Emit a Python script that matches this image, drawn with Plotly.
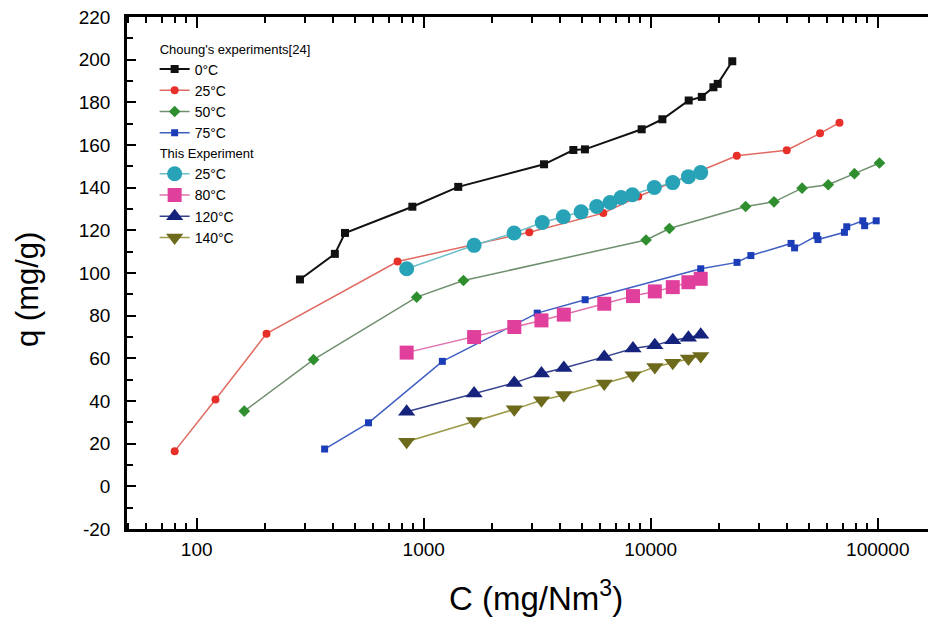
import plotly.graph_objects as go

# ---------------- data ----------------
# Choung's experiments [24]
c_0 = [285, 406, 450, 891, 1419, 3388, 4560, 5130, 9120, 11250, 14690, 16780, 18880, 19720, 22860]
q_0 = [97.0, 109.0, 118.8, 131.1, 140.4, 151.0, 157.7, 158.0, 167.4, 172.1, 180.9, 182.6, 187.1, 188.7, 199.3]

c_25c = [80, 121, 203, 767, 2918, 6180, 8810, 23930, 39720, 55700, 67800]
q_25c = [16.5, 40.7, 71.6, 105.4, 119.1, 128.1, 135.9, 155.0, 157.6, 165.5, 170.5]

c_50 = [162, 327, 931, 1496, 9530, 12080, 26170, 34900, 46400, 60500, 78900, 101700]
q_50 = [35.3, 59.4, 88.7, 96.5, 115.5, 120.9, 131.2, 133.4, 139.8, 141.4, 146.6, 151.6]

c_75 = [366, 571, 1208, 3162, 5140, 16600, 23990, 27600, 41500, 43000, 53800, 54500, 71300, 73000, 85900, 87500, 98400]
q_75 = [17.5, 29.8, 58.6, 81.2, 87.5, 102.0, 105.0, 108.2, 113.9, 111.8, 117.5, 115.7, 119.1, 121.7, 124.5, 122.2, 124.5]

# This experiment
c_25e = [841, 1667, 2500, 3327, 4120, 4933, 5780, 6620, 7400, 8300, 10370, 12500, 14650, 16600]
q_25e = [102.0, 113.0, 118.8, 123.7, 126.4, 128.7, 131.2, 133.1, 135.4, 136.7, 140.1, 142.4, 145.2, 147.1]

c_exp = [841, 1667, 2506, 3300, 4140, 6240, 8350, 10420, 12500, 14650, 16600]
q_80 = [62.7, 70.0, 74.7, 77.8, 80.5, 85.6, 89.2, 91.4, 93.4, 95.7, 97.3]
q_120 = [35.0, 43.5, 48.5, 52.9, 55.5, 60.7, 64.6, 66.1, 68.5, 69.7, 71.1]
q_140 = [20.9, 30.6, 36.1, 40.4, 42.8, 48.2, 52.1, 56.0, 57.9, 59.9, 61.1]

x_ticks = [100, 1000, 10000, 100000]
y_ticks = list(range(-20, 221, 20))

x_title = "C (mg/Nm<sup>3</sup>)"
y_title = "q (mg/g)"

# ---------------- figure ----------------
fig = go.Figure()

def add(x, y, name, group, mcolor, lcolor, symbol, size, gtitle=None, lw=1.5):
    kw = {}
    if gtitle is not None:
        kw["legendgrouptitle"] = dict(text=gtitle, font=dict(size=13, color="black"))
    fig.add_trace(go.Scatter(
        x=x, y=y, name=name, legendgroup=group, mode="lines+markers",
        line=dict(color=lcolor, width=lw),
        marker=dict(color=mcolor, symbol=symbol, size=size, line=dict(width=0)),
        **kw))

add(c_0, q_0, "0°C", "a", "#111111", "#111111", "square", 8, "Choung's experiments[24]", lw=2)
add(c_25c, q_25c, "25°C", "a", "#e8302a", "#e06a62", "circle", 8)
add(c_50, q_50, "50°C", "a", "#2f8f2f", "#6f8f6f", "diamond", 9)
add(c_75, q_75, "75°C", "a", "#1c3db8", "#3f5fc2", "square", 7)
add(c_25e, q_25e, "25°C", "b", "#28a2b6", "#6cbfca", "circle", 15, "This Experiment")
add(c_exp, q_80, "80°C", "b", "#e0409c", "#e070ad", "square", 14)
add(c_exp, q_120, "120°C", "b", "#16237c", "#34408c", "triangle-up", 15)
add(c_exp, q_140, "140°C", "b", "#6d6a1c", "#9c9a48", "triangle-down", 15)

minor_x = []
for d in [10, 100, 1000, 10000, 100000]:
    for k in range(2, 10):
        minor_x.append(k * d)

font_family = "Liberation Sans, Arial, sans-serif"

PLOT_TOP, PLOT_H = 17, 512

fig.update_layout(
    width=936, height=625,
    margin=dict(l=119, r=4, t=9, b=104, autoexpand=False),
    paper_bgcolor="white", plot_bgcolor="white",
    font=dict(family=font_family, color="black"),
    showlegend=True,
    legend=dict(
        x=0.034, y=1 - (33.6 - PLOT_TOP) / PLOT_H, xanchor="left", yanchor="top",
        bgcolor="rgba(0,0,0,0)", borderwidth=0,
        font=dict(size=14, color="black"),
        tracegroupgap=0, traceorder="grouped", itemwidth=30,
    ),
    xaxis=dict(
        type="log", range=[1.693, 5.274],
        tickvals=x_ticks, ticktext=[str(v) for v in x_ticks],
        ticks="inside", ticklen=11, tickwidth=1.5, tickcolor="black",
        minor=dict(tickvals=minor_x, ticks="inside", ticklen=6, tickwidth=1.5, tickcolor="black"),
        showline=True, linewidth=2.5, linecolor="black", mirror="ticks",
        showgrid=False, zeroline=False, automargin=False,
        tickfont=dict(size=19, family=font_family),
        ticklabelstandoff=1,
    ),
    yaxis=dict(
        range=[-20, 220.05], tickvals=y_ticks, ticktext=[str(v) for v in y_ticks],
        ticks="inside", ticklen=9, tickwidth=1.5, tickcolor="black",
        minor=dict(dtick=10, ticks="inside", ticklen=6, tickwidth=1.5, tickcolor="black"),
        showline=True, linewidth=2.5, linecolor="black", mirror="ticks",
        showgrid=False, zeroline=False, automargin=False,
        tickfont=dict(size=19, family=font_family),
        ticklabelstandoff=10, ticklabeloverflow="allow",
    ),
    annotations=[
        dict(text=x_title, xref="paper", yref="paper", x=(536 - 127) / 813,
             y=(529 - 596) / PLOT_H,
             xanchor="center", yanchor="middle", showarrow=False,
             font=dict(size=33, family=font_family, color="black")),
        dict(text=y_title, xref="paper", yref="paper", x=(27 - 127) / 813,
             y=(529 - 290) / PLOT_H,
             xanchor="center", yanchor="middle", showarrow=False, textangle=-90,
             font=dict(size=31, family=font_family, color="black")),
    ],
)

fig.write_html("out.html")
